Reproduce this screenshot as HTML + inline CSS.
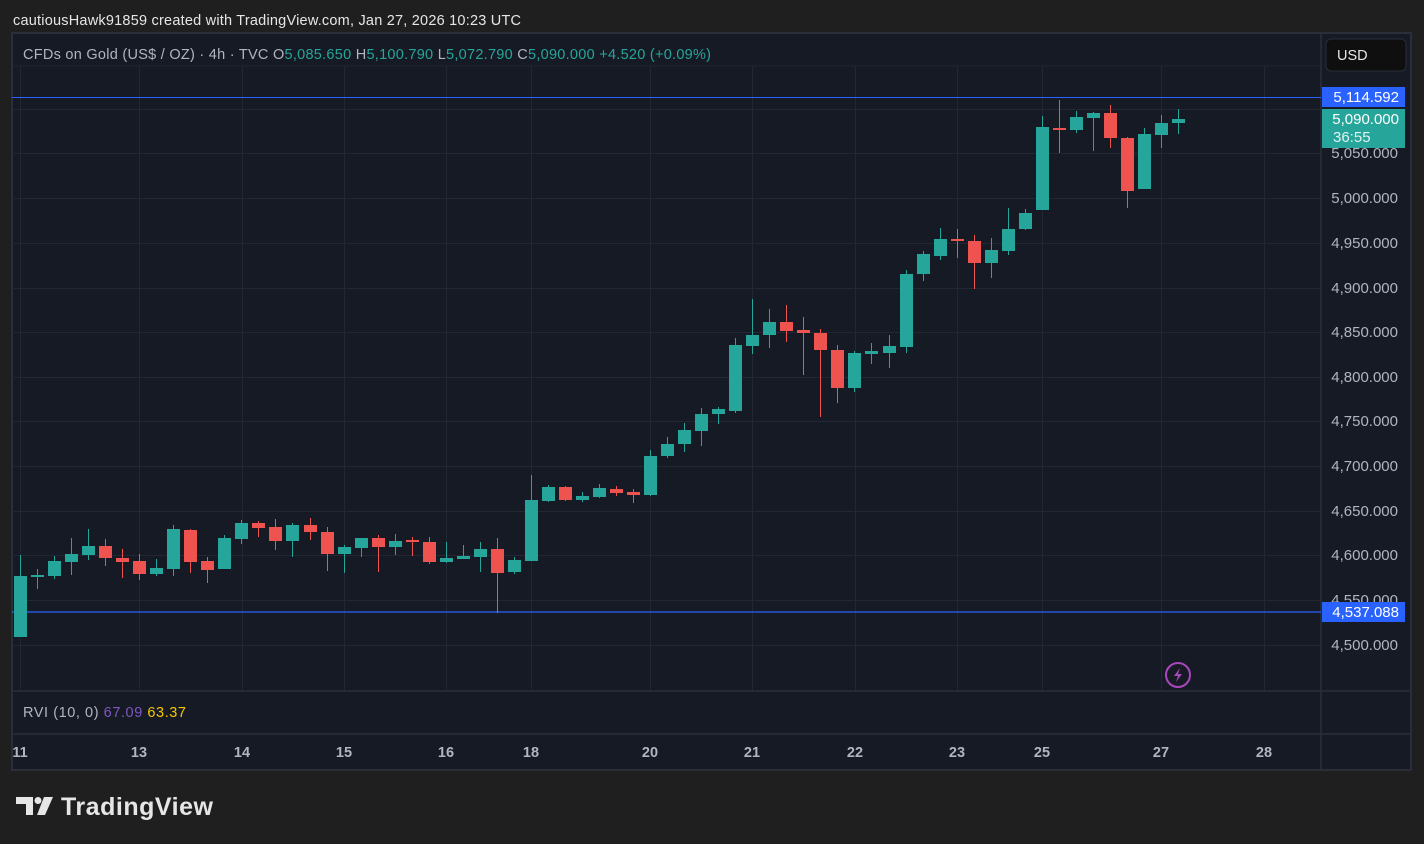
<!DOCTYPE html>
<html><head><meta charset="utf-8"><style>
html,body{margin:0;padding:0;background:#1f1f1f;width:1424px;height:844px;overflow:hidden;font-family:"Liberation Sans",sans-serif}
svg{position:absolute;left:0;top:0}
</style></head><body>
<svg id="s" width="1424" height="844" xmlns="http://www.w3.org/2000/svg" font-family="Liberation Sans, sans-serif" xml:space="preserve">
<rect x="0" y="0" width="1424" height="844" fill="#1f1f1f"/>
<text x="13" y="25" font-size="14.5" fill="#e6e6e6" textLength="508">cautiousHawk91859 created with TradingView.com, Jan 27, 2026 10:23 UTC</text>
<rect x="12" y="33" width="1399" height="737" fill="#161a25" stroke="#2a2e39" stroke-width="2"/>
<g id="grid" stroke="#232733" stroke-width="1"></g>
<line x1="1321" y1="33" x2="1321" y2="769" stroke="#2a2e39" stroke-width="1.5"/>
<line x1="12" y1="691" x2="1410" y2="691" stroke="#2a2e39" stroke-width="1.5"/>
<line x1="12" y1="734" x2="1410" y2="734" stroke="#2a2e39" stroke-width="1.5"/>
<line x1="12" y1="97.5" x2="1321" y2="97.5" stroke="#2962ff" stroke-width="1"/>
<line x1="12" y1="612" x2="1321" y2="612" stroke="#2962ff" stroke-width="1.2"/>
<g id="c"></g>
<text x="23" y="59" font-size="14.5" fill="#b2b5be" textLength="688">CFDs on Gold (US$ / OZ) · 4h · TVC  O<tspan fill="#26a69a">5,085.650</tspan>  H<tspan fill="#26a69a">5,100.790</tspan>  L<tspan fill="#26a69a">5,072.790</tspan>  C<tspan fill="#26a69a">5,090.000</tspan>  <tspan fill="#26a69a">+4.520 (+0.09%)</tspan></text>
<rect x="1326" y="39" width="80" height="32" rx="5" fill="#0f0f0f" stroke="#2a2e39"/>
<text x="1337" y="60" font-size="14.5" fill="#e6e6e6">USD</text>
<g font-size="15" fill="#b2b5be" text-anchor="end">
<text x="1398" y="158">5,050.000</text>
<text x="1398" y="203">5,000.000</text>
<text x="1398" y="248">4,950.000</text>
<text x="1398" y="293">4,900.000</text>
<text x="1398" y="337">4,850.000</text>
<text x="1398" y="382">4,800.000</text>
<text x="1398" y="426">4,750.000</text>
<text x="1398" y="471">4,700.000</text>
<text x="1398" y="516">4,650.000</text>
<text x="1398" y="560">4,600.000</text>
<text x="1398" y="605">4,550.000</text>
<text x="1398" y="650">4,500.000</text>
</g>
<rect x="1322" y="87" width="83" height="20" fill="#2962ff"/>
<text x="1399" y="102" font-size="15" fill="#fff" text-anchor="end">5,114.592</text>
<rect x="1322" y="109" width="83" height="39" fill="#26a69a"/>
<text x="1399" y="124" font-size="15" fill="#fff" text-anchor="end">5,090.000</text>
<text x="1333" y="142" font-size="15" fill="#e0f2f1">36:55</text>
<rect x="1322" y="602" width="83" height="20" fill="#2962ff"/>
<text x="1399" y="617" font-size="15" fill="#fff" text-anchor="end">4,537.088</text>
<circle cx="1178" cy="675" r="12" fill="none" stroke="#ab47bc" stroke-width="2"/>
<path d="M1180 668 L1174 676 L1178 676 L1176 682 L1182 674 L1178 674 Z" fill="#ab47bc"/>
<text x="23" y="717" font-size="14.5" fill="#b2b5be" textLength="163">RVI (10, 0)  <tspan fill="#7e57c2">67.09</tspan>  <tspan fill="#f7c500">63.37</tspan></text>
<g font-size="14.5" font-weight="bold" fill="#b2b5be" text-anchor="middle">
<text x="20" y="757">11</text><text x="139" y="757">13</text><text x="242" y="757">14</text><text x="344" y="757">15</text><text x="446" y="757">16</text><text x="531" y="757">18</text><text x="650" y="757">20</text><text x="752" y="757">21</text><text x="855" y="757">22</text><text x="957" y="757">23</text><text x="1042" y="757">25</text><text x="1161" y="757">27</text><text x="1264" y="757">28</text>
</g>
<g fill="#e6e6e6">
<path d="M16 797 H33 V815 H26 V804 H16 Z"/>
<circle cx="38" cy="800.5" r="3.5"/>
<path d="M44 797 H53 L45 815 H37 Z"/>
</g>
<text x="61" y="815" font-size="25" font-weight="bold" fill="#e6e6e6" textLength="152">TradingView</text>
</svg>
<script>
var ns="http://www.w3.org/2000/svg";
var g=document.getElementById('grid');
function ln(x1,y1,x2,y2){var l=document.createElementNS(ns,'line');l.setAttribute('x1',x1);l.setAttribute('y1',y1);l.setAttribute('x2',x2);l.setAttribute('y2',y2);g.appendChild(l);}
[20,139,242,344,446,531,650,752,855,957,1042,1161,1264].forEach(function(x){ln(x+.5,66,x+.5,691);});
ln(12,66,1321,66);
[109,153,198,243,288,332,377,421,466,511,555,600,645].forEach(function(y){ln(12,y+.5,1321,y+.5);});
var d=[
['g',576,637,555,637],['g',575,576,569,589],['g',561,576,556,579],['g',554,562,538,575],['g',546,555,529,560],
['r',546,558,539,566],['r',558,562,549,578],['r',561,574,554,580],['g',568,574,559,576],['g',529,569,525,576],
['r',530,562,529,573],['r',561,570,557,583],['g',538,569,535,569],['g',523,539,520,544],['r',523,528,521,537],
['r',527,541,519,550],['g',525,541,523,557],['r',525,532,518,540],['r',532,554,527,571],['g',547,554,545,573],
['g',538,548,538,557],['r',538,547,535,572],['g',541,547,534,555],['r',540,542,537,556],['r',542,562,537,564],
['g',558,562,542,563],['g',556,559,545,559],['g',549,557,542,572],['r',549,573,538,613],['g',560,572,557,574],
['g',500,561,475,561],['g',487,501,485,502],['r',487,500,486,501],['g',496,500,492,502],['g',488,497,484,498],
['r',489,493,486,496],['r',492,495,489,503],['g',456,495,450,496],['g',444,456,437,458],['g',430,444,423,452],
['g',414,431,408,446],['g',409,414,407,424],['g',345,411,338,413],['g',335,346,299,354],['g',322,335,309,348],
['r',322,331,305,342],['r',330,333,317,375],['r',333,350,329,417],['r',350,388,345,403],['g',353,388,351,392],
['g',351,354,343,364],['g',346,353,335,368],['g',274,347,270,353],['g',254,274,251,281],['g',239,256,228,260],
['r',239,241,229,258],['r',241,263,235,289],['g',250,263,238,278],['g',229,251,208,255],['g',213,229,209,230],
['g',127,210,116,210],['r',128,130,100,153],['g',117,130,111,133],['g',113,118,112,151],['r',113,138,105,148],
['r',138,191,137,208],['g',134,189,128,189],['g',123,135,115,148],['g',119,123,109,134]];
var c=document.getElementById('c');
d.forEach(function(k,i){
 var x=20+i*(1158/68);var col=k[0]=='g'?'#26a69a':'#ef5350';
 var w=document.createElementNS(ns,'rect');w.setAttribute('x',Math.round(x));w.setAttribute('y',k[3]);w.setAttribute('width',1);w.setAttribute('height',Math.max(1,k[4]-k[3]));w.setAttribute('fill',col);c.appendChild(w);
 var b=document.createElementNS(ns,'rect');b.setAttribute('x',Math.round(x)-6);b.setAttribute('y',k[1]);b.setAttribute('width',13);b.setAttribute('height',Math.max(2,k[2]-k[1]));b.setAttribute('fill',col);c.appendChild(b);
});
</script>
</body></html>
